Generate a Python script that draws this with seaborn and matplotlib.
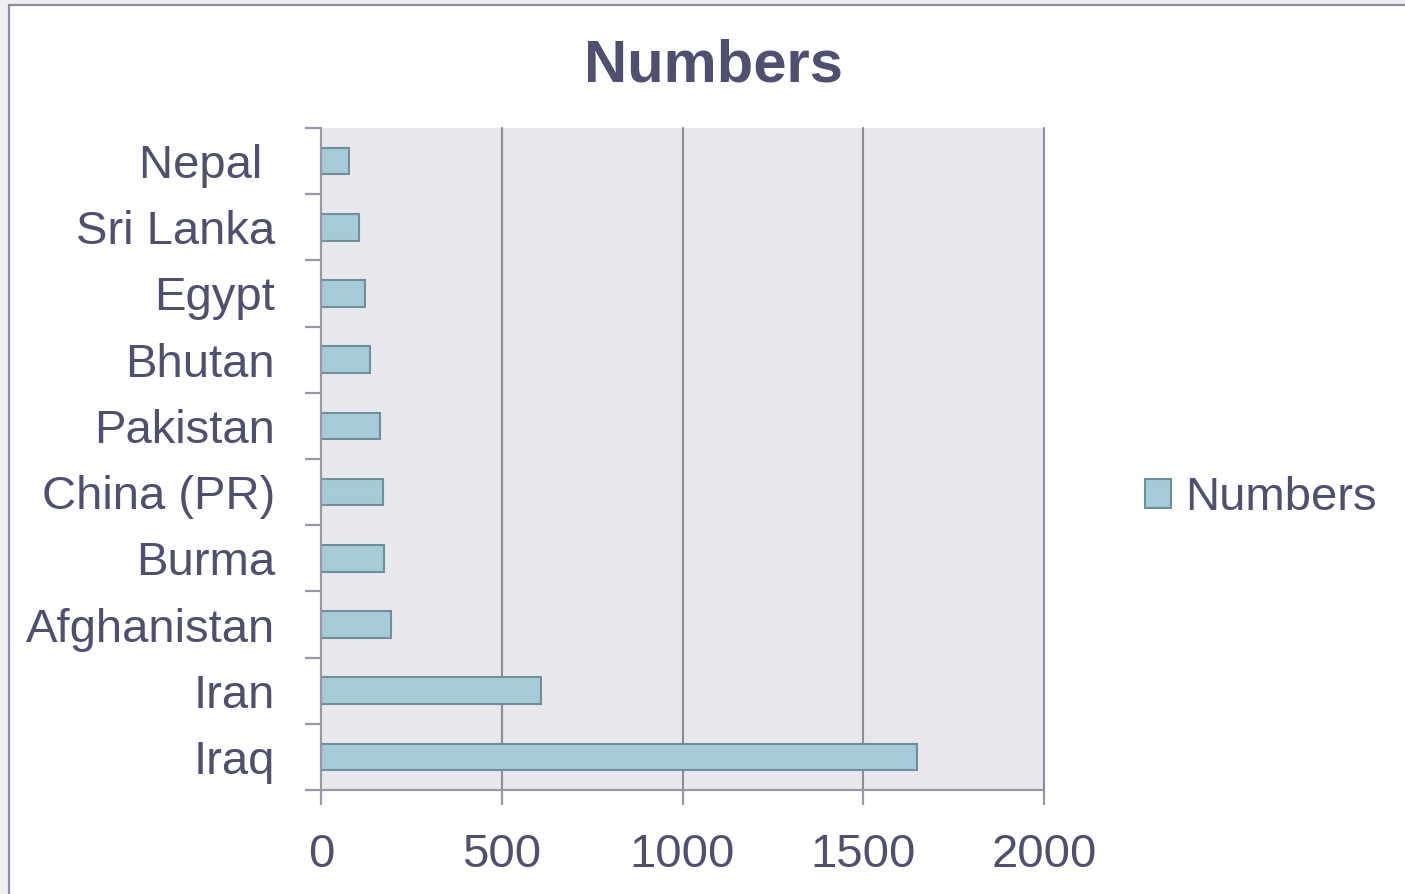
import matplotlib
matplotlib.use("Agg")
import matplotlib.pyplot as plt
import seaborn as sns
import pandas as pd
from matplotlib.patches import Rectangle, Patch

countries = ["Nepal ", "Sri Lanka", "Egypt", "Bhutan", "Pakistan", "China (PR)",
             "Burma", "Afghanistan", "Iran", "Iraq"]
numbers = [78, 104, 123, 136, 162, 171, 173, 193, 608, 1648]
x_ticks = [0, 500, 1000, 1500, 2000]
series_name = "Numbers"
title = "Numbers"

df = pd.DataFrame({"Country": countries, "Numbers": numbers})

sns.set_theme(style="white")
plt.rcParams["font.family"] = ["Liberation Sans", "DejaVu Sans"]

TXT = "#4f4f72"
AX = "#9898a8"
GRID = "#8c8c9c"
BAR = "#a6cbd8"
BAREDGE = "#6f8f9a"

fig = plt.figure(figsize=(14.05, 8.94), dpi=100)
fig.patch.set_facecolor("#efeff1")
fig.patches.append(Rectangle((9 / 1405, -0.05), 1.1, 1.05 - 5 / 894,
                             transform=fig.transFigure, facecolor="white",
                             edgecolor="#8c8ca0", linewidth=1.6, zorder=-5))

ax = fig.add_axes([321 / 1405, 1 - 790 / 894, (1044 - 321) / 1405, (790 - 128) / 894])
ax.set_facecolor("#e8e8ec")

sns.barplot(data=df, x="Numbers", y="Country", orient="h", width=0.4,
            color=BAR, edgecolor=BAREDGE, linewidth=1.5, saturation=1, ax=ax,
            zorder=3)

ax.set_xlim(0, 2000)
ax.set_ylim(len(countries) - 0.5, -0.5)
ax.set_xticks(x_ticks)
ax.set_xticklabels([str(v) for v in x_ticks])
ax.set_xlabel("")
ax.set_ylabel("")

ax.grid(False)
for v in x_ticks[1:]:
    ax.axvline(v, color=GRID, linewidth=1.5, zorder=1, clip_on=False)

for s in ["top", "right"]:
    ax.spines[s].set_visible(False)
for s in ["left", "bottom"]:
    ax.spines[s].set_color(AX)
    ax.spines[s].set_linewidth(1.6)
    ax.spines[s].set_zorder(4)

ax.set_yticks(range(len(countries)))
ax.set_yticklabels(countries)
ax.set_yticks([i - 0.5 for i in range(len(countries) + 1)], minor=True)
ax.tick_params(axis="y", which="major", length=0, pad=33, labelsize=34, labelcolor=TXT)
ax.tick_params(axis="y", which="minor", left=True, length=11.5, width=1.6, color=AX, direction="out")
ax.tick_params(axis="x", which="major", bottom=True, length=11, width=1.6, color=AX,
               direction="out", pad=20, labelsize=34, labelcolor=TXT)

fig.text(713 / 1405, 1 - 66 / 894, title, ha="center", va="center",
         fontsize=43, fontweight="bold", color=TXT)

handle = Patch(facecolor=BAR, edgecolor=BAREDGE, linewidth=1.5)
fig.legend([handle], [series_name], loc="center left",
           bbox_to_anchor=(1145 / 1405, 1 - 498 / 894), frameon=False,
           fontsize=34, labelcolor=TXT, handlelength=0.55, handleheight=0.55,
           handletextpad=0.3, borderpad=0, borderaxespad=0)

fig.savefig("out.png", dpi=100)
